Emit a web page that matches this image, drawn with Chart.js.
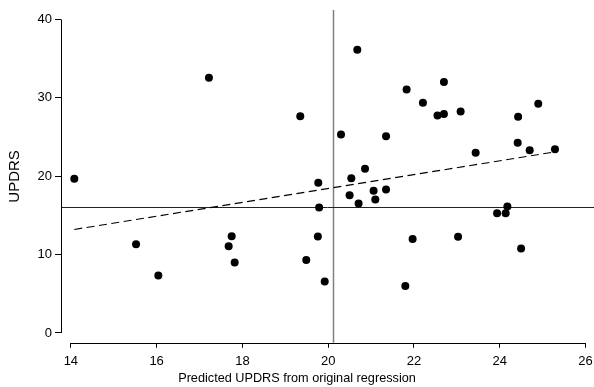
<!DOCTYPE html>
<html>
<head>
<meta charset="utf-8">
<script src="https://cdn.jsdelivr.net/npm/chart.js@4/dist/chart.umd.min.js"></script>
<style>
  html, body { margin: 0; padding: 0; background: #fff; }
  #wrap { width: 594px; height: 387px; position: relative; }
</style>
</head>
<body>
<div id="wrap"><canvas id="c" width="594" height="387"></canvas></div>
<script>
// ---- Data ----
const predicted = [14.08, 17.22, 19.35, 20.68, 20.30, 21.35, 20.86, 20.54, 19.77, 20.50,
                   21.06, 21.35, 21.10, 20.71, 19.79, 19.76, 17.75, 17.68, 17.82, 19.49,
                   19.92, 15.52, 16.04, 21.80, 21.97, 23.03, 23.94, 24.14, 24.18, 24.50,
                   21.83, 22.70, 22.21, 22.55, 22.70, 23.09, 23.44, 24.43, 24.90, 24.42,
                   24.70, 25.29];
const updrs =     [19.67, 32.57, 27.66, 36.14, 25.33, 25.10, 20.95, 19.75, 19.16, 17.57,
                   18.13, 18.30, 17.02, 16.51, 16.00, 12.30, 12.34, 11.06, 8.98, 9.32,
                   6.55, 11.32, 7.32, 6.00, 12.00, 12.26, 15.27, 15.27, 16.13, 10.77,
                   31.07, 32.00, 29.37, 27.75, 27.92, 28.26, 22.99, 27.59, 29.25, 24.27,
                   23.32, 23.45];
const fitX = [14.08, 25.29];
const fitY = [13.2, 23.1];
const meanPredicted = 20.12;
const meanUpdrs = 16.09;
const xTicks = [14, 16, 18, 20, 22, 24, 26];
const yTicks = [0, 10, 20, 30, 40];
const xLabel = 'Predicted UPDRS from original regression';
const yLabel = 'UPDRS';

const FONT = 'Liberation Sans, Arial, Helvetica, sans-serif';

const refLines = {
  id: 'refLines',
  beforeDatasetsDraw(chart) {
    const {ctx, chartArea: a, scales: {x, y}} = chart;
    ctx.save();
    const px = Math.round(x.getPixelForValue(meanPredicted)) + 0.5;
    ctx.strokeStyle = '#808080';
    ctx.lineWidth = 1.5;
    ctx.beginPath();
    ctx.moveTo(px, a.top);
    ctx.lineTo(px, a.bottom);
    ctx.stroke();
    const py = Math.round(y.getPixelForValue(meanUpdrs)) + 0.5;
    ctx.strokeStyle = '#222';
    ctx.lineWidth = 1;
    ctx.beginPath();
    ctx.moveTo(a.left, py);
    ctx.lineTo(a.right, py);
    ctx.stroke();
    ctx.restore();
  },
  afterDraw(chart) {
    const {ctx, chartArea: a, scales: {x, y}} = chart;
    ctx.save();
    ctx.strokeStyle = '#000';
    ctx.lineWidth = 1;
    const by = Math.round(a.bottom) + 0.5;
    ctx.beginPath();
    ctx.moveTo(x.getPixelForValue(xTicks[0]), by);
    ctx.lineTo(x.getPixelForValue(xTicks[xTicks.length - 1]), by);
    ctx.stroke();
    const lx = Math.round(a.left) + 0.5;
    ctx.beginPath();
    ctx.moveTo(lx, y.getPixelForValue(yTicks[0]));
    ctx.lineTo(lx, y.getPixelForValue(yTicks[yTicks.length - 1]));
    ctx.stroke();
    ctx.restore();
  }
};

new Chart(document.getElementById('c'), {
  type: 'scatter',
  data: {
    datasets: [
      {
        label: 'points',
        data: predicted.map((v, i) => ({x: v, y: updrs[i]})),
        backgroundColor: '#000',
        borderWidth: 0,
        pointRadius: 4,
        pointHoverRadius: 4,
        clip: false
      },
      {
        label: 'fit',
        type: 'line',
        data: fitX.map((v, i) => ({x: v, y: fitY[i]})),
        borderColor: '#000',
        borderWidth: 1.2,
        borderDash: [8, 4.5],
        pointRadius: 0,
        fill: false
      }
    ]
  },
  options: {
    responsive: false,
    animation: false,
    events: [],
    layout: { autoPadding: false, padding: { top: 10, right: 0, left: 0, bottom: 0 } },
    plugins: {
      legend: { display: false },
      tooltip: { enabled: false },
      title: {
        display: true,
        position: 'bottom',
        text: xLabel,
        color: '#000',
        font: { family: FONT, size: 12.7, weight: 'normal', lineHeight: 1.2 },
        padding: { top: 0, bottom: 1 }
      }
    },
    scales: {
      x: {
        type: 'linear',
        min: 13.77,
        max: 26.2,
        afterBuildTicks: s => { s.ticks = xTicks.map(v => ({value: v})); },
        afterFit: s => { s.height = 28; s.paddingLeft = 0; s.paddingRight = 0; },
        border: { display: false },
        grid: { drawOnChartArea: false, drawTicks: true, tickLength: 5, color: '#000' },
        ticks: { color: '#000', padding: 6, maxRotation: 0, autoSkip: false,
                 font: { family: FONT, size: 13 } }
      },
      y: {
        type: 'linear',
        min: -1.25,
        max: 41.2,
        afterBuildTicks: s => { s.ticks = yTicks.map(v => ({value: v})); },
        afterFit: s => { s.width = 61; s.paddingTop = 0; s.paddingBottom = 0; },
        border: { display: false },
        grid: { drawOnChartArea: false, drawTicks: true, tickLength: 6, color: '#000' },
        ticks: { color: '#000', padding: 3, autoSkip: false,
                 font: { family: FONT, size: 13 } },
        title: {
          display: true,
          text: yLabel,
          color: '#000',
          font: { family: FONT, size: 15, lineHeight: 1.2 },
          padding: { top: 6, bottom: 0 }
        }
      }
    }
  },
  plugins: [refLines]
});
</script>
</body>
</html>
